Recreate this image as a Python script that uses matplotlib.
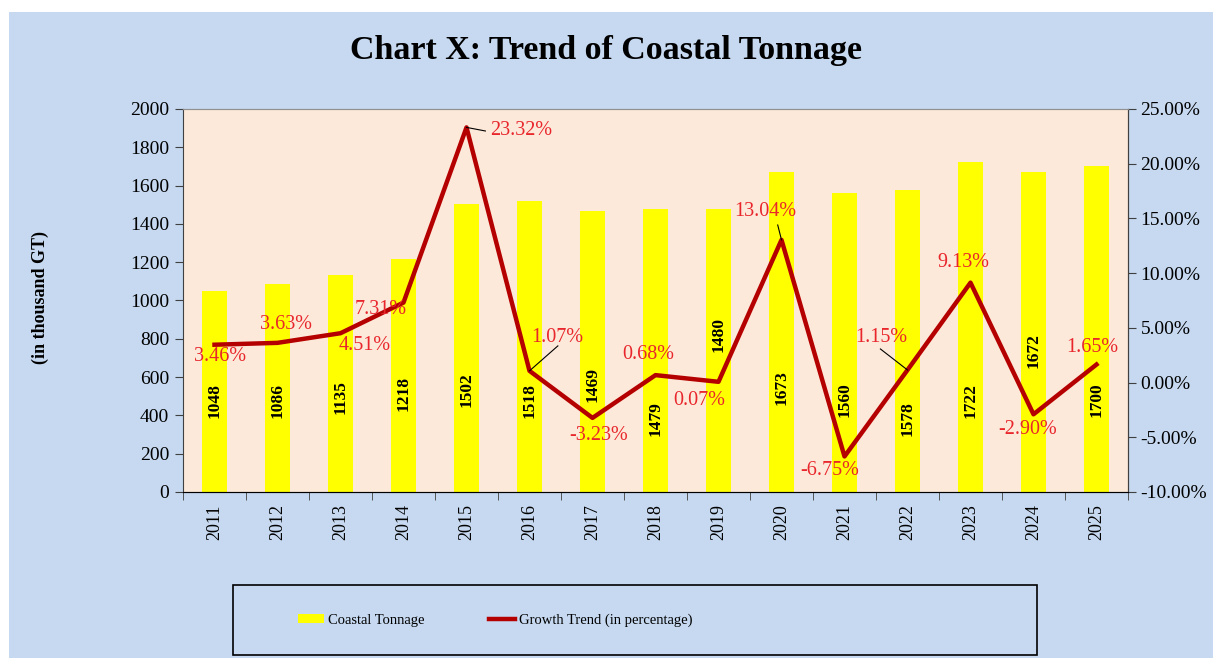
import matplotlib.pyplot as plt
from matplotlib.patches import Rectangle, Patch
from matplotlib.lines import Line2D
from matplotlib.ticker import FuncFormatter, MultipleLocator

# data
years = ['2011', '2012', '2013', '2014', '2015', '2016', '2017', '2018',
         '2019', '2020', '2021', '2022', '2023', '2024', '2025']
tonnage = [1048, 1086, 1135, 1218, 1502, 1518, 1469, 1479,
           1480, 1673, 1560, 1578, 1722, 1672, 1700]
growth = [3.46, 3.63, 4.51, 7.31, 23.32, 1.07, -3.23, 0.68,
          0.07, 13.04, -6.75, 1.15, 9.13, -2.90, 1.65]

# label placement (left-axis units for bar values, category offset / % for growth labels)
bar_label_y = [480, 480, 496, 517, 533, 480, 559, 386, 820, 543, 480, 386, 480, 741, 480]
growth_dx = [0.09, 0.13, 0.39, -0.37, 0.37, 0.44, 0.09, -0.12, -0.31, -0.26, -0.23, -0.42, -0.12, -0.09, -0.07]
growth_y = [2.34, 5.35, 3.43, 6.72, 22.99, 4.16, -4.88, 2.52, -1.68, 15.59, -8.08, 4.16, 10.93, -4.33, 3.25]
leaders = {4: (0.3, 22.99), 5: (0.45, 3.35), 9: (-0.06, 14.4), 11: (-0.43, 3.07)}

BLUE = '#c6d9f0'
PEACH = '#fde9d9'
LINE_RED = '#b50000'
LABEL_RED = '#e8262c'

plt.rcParams['font.family'] = ['Liberation Serif', 'DejaVu Serif']

fig = plt.figure(figsize=(12.13, 6.58), dpi=100, facecolor='white')
fig.patches.append(Rectangle((9 / 1213, 0), 1 - 9 / 1213, (658 - 12) / 658,
                             transform=fig.transFigure, facecolor=BLUE,
                             edgecolor='none', zorder=-10))

ax = fig.add_axes([183 / 1213, (658 - 492) / 658, (1128 - 183) / 1213, (492 - 109) / 658])
ax.set_zorder(2)
ax.set_facecolor(PEACH)
x = list(range(len(years)))
ax.bar(x, tonnage, width=0.4, color='#ffff00', zorder=2)
for i, v in enumerate(tonnage):
    ax.text(i, bar_label_y[i], str(v), rotation=90, ha='center', va='center',
            fontsize=12.5, fontweight='bold', color='black', zorder=3)

ax.set_xlim(-0.5, len(years) - 0.5)
ax.set_ylim(0, 2000)
ax.yaxis.set_major_locator(MultipleLocator(200))
ax.set_xticks(x)
ax.set_xticklabels(years, rotation=90, fontsize=13)
ax.set_xticks([i - 0.5 for i in range(len(years) + 1)], minor=True)
ax.tick_params(axis='x', which='major', length=0, pad=9)
ax.tick_params(axis='x', which='minor', length=6, direction='out', color='#404040')
ax.tick_params(axis='y', labelsize=14, length=6, direction='out', color='#404040', pad=4)
for s in ['left', 'bottom', 'right']:
    ax.spines[s].set_color('#404040')
ax.spines['top'].set_color('#909090')

ax2 = ax.twinx()
ax2.set_zorder(3)
ax2.patch.set_visible(False)
ax2.plot(x, growth, color=LINE_RED, linewidth=3.2, zorder=4)
ax2.set_ylim(-10, 25)
ax2.yaxis.set_major_locator(MultipleLocator(5))
ax2.yaxis.set_major_formatter(FuncFormatter(lambda v, p: '%.2f%%' % v))
ax2.tick_params(axis='y', labelsize=14, length=6, direction='out', color='#404040', pad=3)
ax2.spines['right'].set_color('#404040')
ax2.spines['left'].set_visible(False)
ax2.spines['top'].set_color('#909090')

for i, g in enumerate(growth):
    tx = i + growth_dx[i]
    ha = 'center'
    if i == 4:
        ha = 'left'
    ax2.text(tx, growth_y[i], '%.2f%%' % g, ha=ha, va='center',
             fontsize=14.5, color=LABEL_RED, zorder=5)
    if i in leaders:
        lx, ly = leaders[i]
        ax2.plot([i, i + lx], [g, ly], color='black', linewidth=0.8, zorder=5)

fig.text(606 / 1213, 1 - 51 / 658, 'Chart X: Trend of Coastal Tonnage',
         ha='center', va='center', fontsize=24.5, fontweight='bold')
fig.text(40 / 1213, 1 - 297 / 658, '(in thousand GT)', rotation=90,
         ha='center', va='center', fontsize=13, fontweight='bold')

# legend
fig.patches.append(Rectangle((233 / 1213, 3 / 658), 804 / 1213, 70 / 658,
                             transform=fig.transFigure, facecolor=BLUE,
                             edgecolor='black', linewidth=1.2, zorder=1))
handles = [Patch(facecolor='#ffff00', edgecolor='none'),
           Line2D([0], [0], color=LINE_RED, linewidth=3.2)]
fig.legend(handles, ['Coastal Tonnage', 'Growth Trend (in percentage)'],
           loc='center left', bbox_to_anchor=(285 / 1213, 38 / 658), ncol=2,
           frameon=False, fontsize=10.5, handlelength=1.8, handleheight=0.6,
           handletextpad=0.25, columnspacing=4.4)

fig.savefig('out.png', dpi=100, facecolor=fig.get_facecolor())
